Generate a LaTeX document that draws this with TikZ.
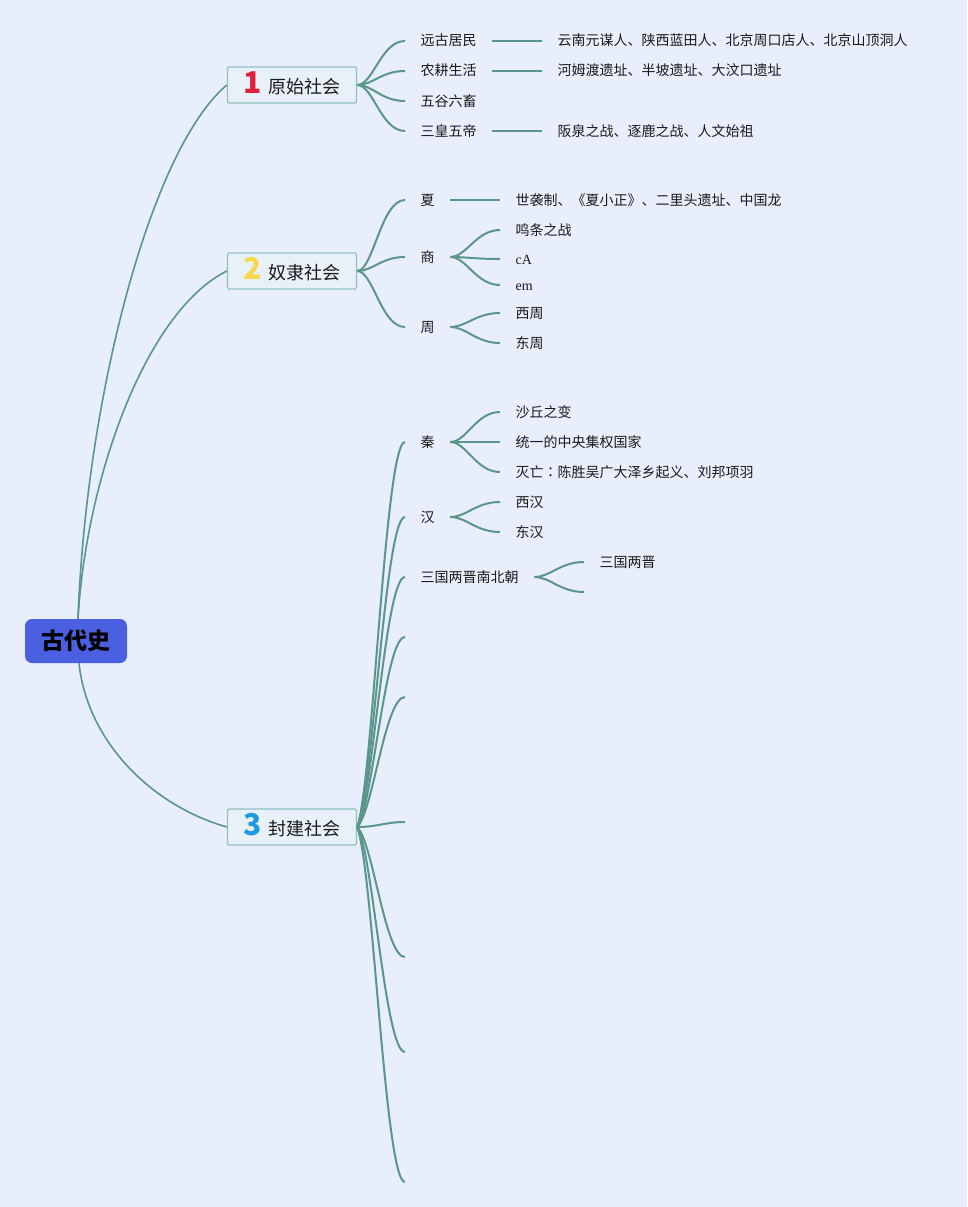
\documentclass[tikz,border=0pt]{standalone}
\usepackage{fontspec}
\setmainfont{Noto Sans CJK SC}
\newfontfamily\latinserif{Liberation Serif}
\newfontfamily\tcfont{Noto Sans CJK TC}
\definecolor{bgc}{RGB}{232,238,251}
\definecolor{linec}{RGB}{90,150,138}
\definecolor{rootc}{RGB}{74,96,224}
\definecolor{boxc}{RGB}{232,241,248}
\definecolor{boxd}{RGB}{145,192,195}
\definecolor{textc}{RGB}{26,26,26}
\definecolor{numred}{RGB}{224,32,60}
\definecolor{numyel}{RGB}{247,217,76}
\definecolor{numblu}{RGB}{30,155,224}
\tikzset{
  conn/.style={draw=linec, line width=2pt},
  rootconn/.style={draw=linec, line width=1.6pt},
  rootbox/.style={fill=rootc, rounded corners=7pt, minimum width=102pt, minimum height=44pt, inner sep=0pt, font=\bfseries\fontsize{23}{26}\selectfont, text=black},
  topic/.style={fill=boxc, draw=boxd, line width=1.4pt, rounded corners=1.5pt, minimum width=129pt, minimum height=36pt, inner sep=0pt, text height=18pt, text depth=2pt, font=\fontsize{18}{20}\selectfont, text=textc},
  leaf/.style={anchor=west, inner xsep=15.5pt, inner ysep=0pt, text height=12pt, text depth=2pt, font=\fontsize{14}{16}\selectfont, text=textc},
}
\newcommand{\numdigit}[2]{{\fontsize{30}{30}\selectfont\bfseries\color{#1}#2}\hspace{7pt}}
\begin{document}
\begin{tikzpicture}[x=1pt,y=-1pt]
\useasboundingbox (0,0) rectangle (967,1207);
\fill[bgc] (0,0) rectangle (967,1207);

% root and topics
\node[rootbox] (root) at (76,641) {古代史};
\node[topic] (b1) at (292,85) {\numdigit{numred}{1}原始社会};
\node[topic] (b2) at (292,271) {\numdigit{numyel}{2}奴隶社会};
\node[topic] (b3) at (292,827) {\numdigit{numblu}{3}封建社会};

\draw[rootconn] ([xshift=2pt]root.north) .. controls (86,400) and (150,150) .. (b1.west);
\draw[rootconn] ([xshift=2pt]root.north) .. controls (86,480) and (145,312) .. (b2.west);
\draw[rootconn] ([xshift=3pt]root.south) .. controls (87,740) and (150,805) .. (b3.west);

% level 2 under b1
\node[leaf] (a1) at (405,41) {远古居民};
\node[leaf] (a2) at (405,71) {农耕生活};
\node[leaf] (a3) at (405,101) {五谷六畜};
\node[leaf] (a4) at (405,131) {三皇五帝};
\node[leaf] (a1x) at (542,41) {云南元谋人、陕西蓝田人、北京周口店人、北京山顶洞人};
\node[leaf] (a2x) at (542,71) {河姆渡遗址、半坡遗址、大汶口遗址};
\node[leaf] (a4x) at (542,131) {阪泉之战、逐鹿之战、人文始祖};
\foreach \n in {a1,a2,a3,a4}
  \draw[conn] (b1.east) .. controls +(16,0) and +(-24,0) .. (\n.west);
\draw[conn] (a1.east) -- (a1x.west);
\draw[conn] (a2.east) -- (a2x.west);
\draw[conn] (a4.east) -- (a4x.west);

% level 2 under b2
\node[leaf] (c1) at (405,200) {夏};
\node[leaf] (c2) at (405,257) {商};
\node[leaf] (c3) at (405,327) {周};
\foreach \n in {c1,c2,c3}
  \draw[conn] (b2.east) .. controls +(16,0) and +(-24,0) .. (\n.west);
\node[leaf] (c1x) at (500,200) {世袭制、《夏小正》、二里头遗址、中国龙};
\draw[conn] (c1.east) -- (c1x.west);
\node[leaf] (c2a) at (500,230) {鸣条之战};
\node[leaf] (c2b) at (500,259) {\latinserif cA};
\node[leaf] (c2c) at (500,285) {\latinserif em};
\foreach \n in {c2a,c2b,c2c}
  \draw[conn] (c2.east) .. controls +(16,0) and +(-24,0) .. (\n.west);
\node[leaf] (c3a) at (500,313) {西周};
\node[leaf] (c3b) at (500,343) {东周};
\foreach \n in {c3a,c3b}
  \draw[conn] (c3.east) .. controls +(16,0) and +(-24,0) .. (\n.west);

% level 2 under b3
\node[leaf] (d1) at (405,442) {秦};
\node[leaf] (d2) at (405,517) {汉};
\node[leaf] (d3) at (405,577) {三国两晋南北朝};
\coordinate (e1) at (405,637);
\coordinate (e2) at (405,697);
\coordinate (e3) at (405,822);
\coordinate (e4) at (405,957);
\coordinate (e5) at (405,1052);
\coordinate (e6) at (405,1182);
\draw[conn] (b3.east) .. controls +(16,-46) and +(-20,0) .. (d1.west);
\draw[conn] (b3.east) .. controls +(16,-37) and +(-20,0) .. (d2.west);
\draw[conn] (b3.east) .. controls +(16,-30) and +(-20,0) .. (d3.west);
\draw[conn] (b3.east) .. controls +(16,-23) and +(-20,0) .. (e1);
\draw[conn] (b3.east) .. controls +(16,-16) and +(-20,0) .. (e2);
\draw[conn] (b3.east) .. controls +(20,0) and +(-20,0) .. (e3);
\draw[conn] (b3.east) .. controls +(16,16) and +(-20,0) .. (e4);
\draw[conn] (b3.east) .. controls +(16,27) and +(-20,0) .. (e5);
\draw[conn] (b3.east) .. controls +(16,43) and +(-20,0) .. (e6);

\node[leaf] (d1a) at (500,412) {沙丘之变};
\node[leaf] (d1b) at (500,442) {统一的中央集权国家};
\node[leaf] (d1c) at (500,472) {灭亡{\tcfont ：}陈胜吴广大泽乡起义、刘邦项羽};
\foreach \n in {d1a,d1b,d1c}
  \draw[conn] (d1.east) .. controls +(16,0) and +(-24,0) .. (\n.west);
\node[leaf] (d2a) at (500,502) {西汉};
\node[leaf] (d2b) at (500,532) {东汉};
\foreach \n in {d2a,d2b}
  \draw[conn] (d2.east) .. controls +(16,0) and +(-24,0) .. (\n.west);
\node[leaf] (d3a) at (584,562) {三国两晋};
\coordinate (e7) at (584,592);
\draw[conn] (d3.east) .. controls +(16,0) and +(-24,0) .. (d3a.west);
\draw[conn] (d3.east) .. controls +(16,0) and +(-24,0) .. (e7);
\end{tikzpicture}
\end{document}
